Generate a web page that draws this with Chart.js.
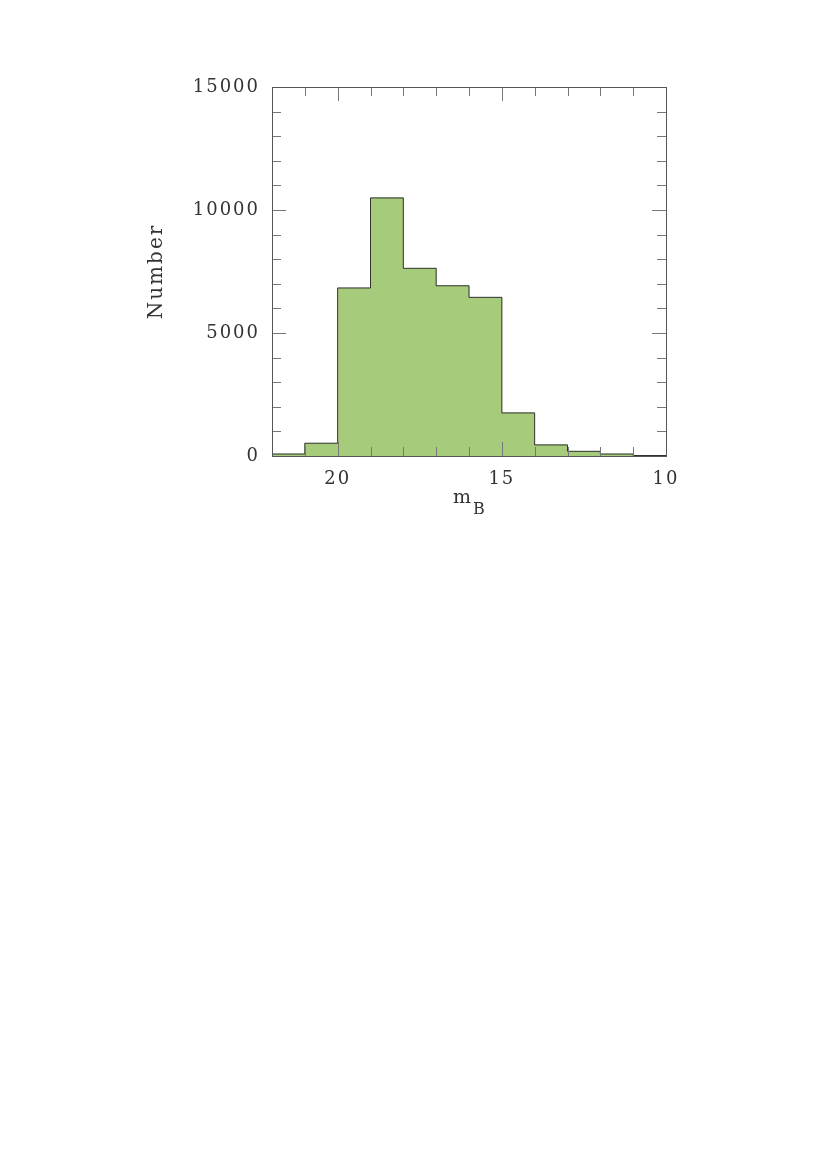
<!DOCTYPE html>
<html>
<head>
<meta charset="utf-8">
<script src="https://cdn.jsdelivr.net/npm/chart.js@4.4.0/dist/chart.umd.min.js"></script>
<style>
  html, body { margin: 0; padding: 0; background: #fff; }
</style>
</head>
<body>
<canvas id="chart-mag" width="827" height="1168"></canvas>
<script>
// Histogram of m_B, 1 mag wide bins (edges from faint to bright)
const magEdges = [22, 21, 20, 19, 18, 17, 16, 15, 14, 13, 12, 11, 10];
const magCounts = [80, 520, 6830, 10490, 7630, 6920, 6450, 1750, 450, 190, 80, 20];
const xTickValues = [20, 15, 10];
const yTickValues = [0, 5000, 10000, 15000];

const textColor = '#333';
const fontFamily = "'DejaVu Serif', serif";

// bar centres and outline points built from the edges above
const barPoints = magCounts.map((c, i) => ({ x: (magEdges[i] + magEdges[i + 1]) / 2, y: c }));
const outlinePoints = magEdges.map((e, i) => ({ x: e, y: magCounts[Math.min(i, magCounts.length - 1)] }));

// wide letter spacing like the original plot font
const spacing = {
    id: 'spacing',
    beforeUpdate(chart) { chart.ctx.letterSpacing = '2px'; },
    beforeDraw(chart) { chart.ctx.letterSpacing = '2px'; }
};

// frame + inward ticks on all four sides, drawn over the bars
const frameTicks = {
    id: 'frameTicks',
    afterDatasetsDraw(chart) {
        const { ctx, chartArea: a, scales: { x, y } } = chart;
        ctx.save();
        ctx.strokeStyle = '#777';
        ctx.lineWidth = 1;
        ctx.beginPath();
        for (let v = 11; v <= 21; v++) {
            const px = Math.round(x.getPixelForValue(v)) + 0.5;
            const len = v % 5 === 0 ? 14 : 9;
            ctx.moveTo(px, a.bottom); ctx.lineTo(px, a.bottom - len);
            ctx.moveTo(px, a.top); ctx.lineTo(px, a.top + len);
        }
        for (let v = 1000; v < 15000; v += 1000) {
            const py = Math.round(y.getPixelForValue(v)) + 0.5;
            const len = v % 5000 === 0 ? 14 : 9;
            ctx.moveTo(a.left, py); ctx.lineTo(a.left + len, py);
            ctx.moveTo(a.right, py); ctx.lineTo(a.right - len, py);
        }
        ctx.stroke();
        ctx.strokeStyle = '#555';
        ctx.strokeRect(Math.round(a.left) + 0.5, Math.round(a.top) + 0.5,
            Math.round(a.right - a.left), Math.round(a.bottom - a.top));
        ctx.restore();
    }
};

// x axis title m with subscript B
const xTitle = {
    id: 'xTitle',
    afterDraw(chart) {
        const { ctx, chartArea: a } = chart;
        ctx.save();
        ctx.fillStyle = textColor;
        ctx.textBaseline = 'alphabetic';
        ctx.textAlign = 'left';
        ctx.letterSpacing = '1px';
        const cx = (a.left + a.right) / 2 - 16;
        ctx.font = '19px ' + fontFamily;
        ctx.fillText('m', cx, a.bottom + 47);
        const mw = ctx.measureText('m').width;
        ctx.font = '16px ' + fontFamily;
        ctx.fillText('B', cx + mw + 1, a.bottom + 58);
        ctx.restore();
    }
};

const ctxMag = document.getElementById('chart-mag');

new Chart(ctxMag, {
    type: 'bar',
    data: {
        datasets: [
            {
                type: 'line',
                data: outlinePoints,
                stepped: 'before',
                borderColor: '#333',
                borderWidth: 1,
                pointRadius: 0,
                fill: false,
                order: 1
            },
            {
                type: 'bar',
                data: barPoints,
                backgroundColor: '#a5cb7b',
                borderWidth: 0,
                barPercentage: 1,
                categoryPercentage: 1,
                order: 2
            }
        ]
    },
    options: {
        responsive: false,
        animation: false,
        events: [],
        layout: {
            padding: { left: 140, right: 161, top: 87, bottom: 652 }
        },
        plugins: {
            legend: { display: false },
            tooltip: { enabled: false }
        },
        scales: {
            x: {
                type: 'linear',
                reverse: true,
                min: 10,
                max: 22,
                offset: false,
                grid: { display: false, drawTicks: false },
                border: { display: false },
                afterBuildTicks: (scale) => { scale.ticks = xTickValues.map(v => ({ value: v })); },
                afterFit: (scale) => { scale.height = 60; },
                ticks: {
                    color: textColor,
                    padding: 13,
                    maxRotation: 0,
                    autoSkip: false,
                    font: { family: fontFamily, size: 18 },
                    callback: (v) => String(v)
                }
            },
            y: {
                min: 0,
                max: 15000,
                grid: { display: false, drawTicks: false },
                border: { display: false },
                afterBuildTicks: (scale) => { scale.ticks = yTickValues.map(v => ({ value: v })); },
                afterFit: (scale) => { scale.width = 132; },
                ticks: {
                    color: textColor,
                    padding: 12,
                    autoSkip: false,
                    font: { family: fontFamily, size: 18 },
                    callback: (v) => String(v)
                },
                title: {
                    display: true,
                    text: 'Number',
                    color: textColor,
                    padding: { top: 5, bottom: 0 },
                    font: { family: fontFamily, size: 20, weight: 'normal' }
                }
            }
        }
    },
    plugins: [spacing, frameTicks, xTitle]
});
</script>
</body>
</html>
